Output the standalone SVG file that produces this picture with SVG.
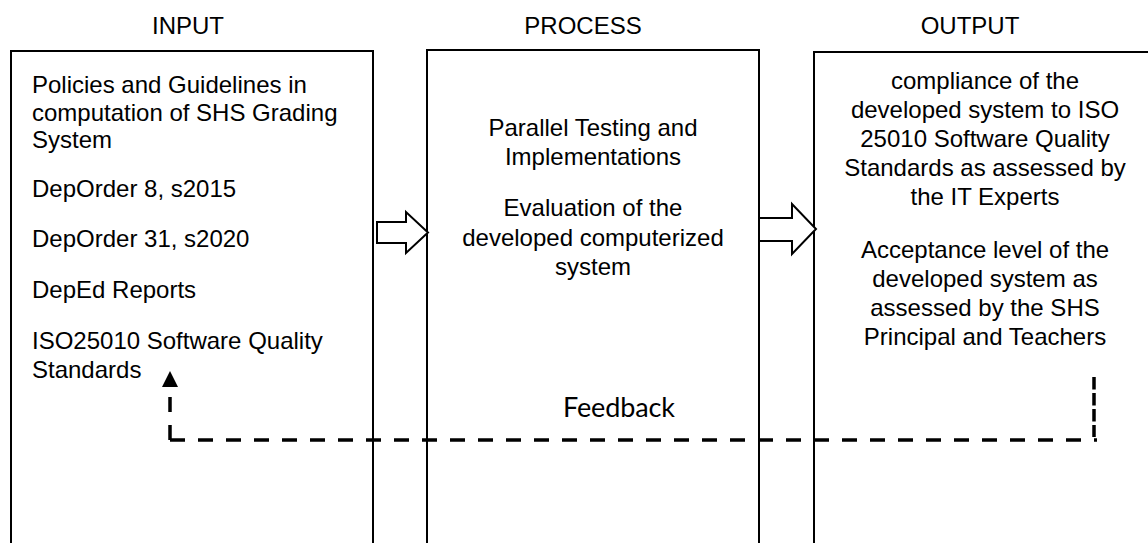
<svg xmlns="http://www.w3.org/2000/svg" width="1148" height="543" viewBox="0 0 1148 543">
  <style>
    .box { fill: #ffffff; stroke: #000000; stroke-width: 2; }
    .title { font-family: "Liberation Sans", Arial, sans-serif; font-size: 24px; fill: #000000; text-anchor: middle; }
    .body { font-family: "Liberation Sans", Arial, sans-serif; font-size: 24px; fill: #000000; }
    .mid { text-anchor: middle; }
    .fat { fill: #ffffff; stroke: #000000; stroke-width: 2; stroke-linejoin: miter; }
    .fb { fill: none; stroke: #000000; stroke-width: 3.5; }
  </style>

  <!-- column headings -->
  <g id="headings">
    <text class="title" x="188" y="34">INPUT</text>
    <text class="title" x="583" y="34">PROCESS</text>
    <text class="title" x="970" y="34">OUTPUT</text>
  </g>

  <!-- input column (runs past the lower edge) -->
  <g id="input">
    <rect class="box" x="11" y="51" width="362" height="510"/>
    <text class="body" x="32" y="93">Policies and Guidelines in</text>
    <text class="body" x="32" y="120.5">computation of SHS Grading</text>
    <text class="body" x="32" y="148">System</text>
    <text class="body" x="32" y="196.5">DepOrder 8, s2015</text>
    <text class="body" x="32" y="247">DepOrder 31, s2020</text>
    <text class="body" x="32" y="297.5">DepEd Reports</text>
    <text class="body" x="32" y="349">ISO25010 Software Quality</text>
    <text class="body" x="32" y="378">Standards</text>
  </g>

  <!-- process column -->
  <g id="process">
    <rect class="box" x="427" y="50" width="332" height="510"/>
    <text class="body mid" x="593" y="135.5">Parallel Testing and</text>
    <text class="body mid" x="593" y="165">Implementations</text>
    <text class="body mid" x="593" y="216">Evaluation of the</text>
    <text class="body mid" x="593" y="245.5">developed computerized</text>
    <text class="body mid" x="593" y="275">system</text>
  </g>

  <!-- output column -->
  <g id="output">
    <rect class="box" x="814" y="52" width="346" height="510"/>
    <text class="body mid" x="985" y="89">compliance of the</text>
    <text class="body mid" x="985" y="118">developed system to ISO</text>
    <text class="body mid" x="985" y="147">25010 Software Quality</text>
    <text class="body mid" x="985" y="176">Standards as assessed by</text>
    <text class="body mid" x="985" y="205">the IT Experts</text>
    <text class="body mid" x="985" y="258">Acceptance level of the</text>
    <text class="body mid" x="985" y="287">developed system as</text>
    <text class="body mid" x="985" y="316">assessed by the SHS</text>
    <text class="body mid" x="985" y="345">Principal and Teachers</text>
  </g>

  <!-- connectors -->
  <g id="connectors">
    <path class="fat" d="M377,222 H406 V212 L428,232.5 L406,253 V243 H377 Z"/>
    <path class="fat" d="M759,218 H792 V204 L816,229 L792,254 V241 H759 Z"/>
    <!-- feedback loop -->
    <path class="fb" stroke-dasharray="12.5 3.5" d="M1094,377 V437"/>
    <path class="fb" stroke-dasharray="15 13" d="M170,440 H1097"/>
    <path class="fb" stroke-dasharray="15 13" d="M170,440 V385"/>
    <polygon points="170,371 162,387 178,387" fill="#000000"/>
    <text x="563" y="417" font-family="Lato, 'Open Sans', sans-serif" font-size="27" textLength="112" fill="#000000">Feedback</text>
  </g>
</svg>
